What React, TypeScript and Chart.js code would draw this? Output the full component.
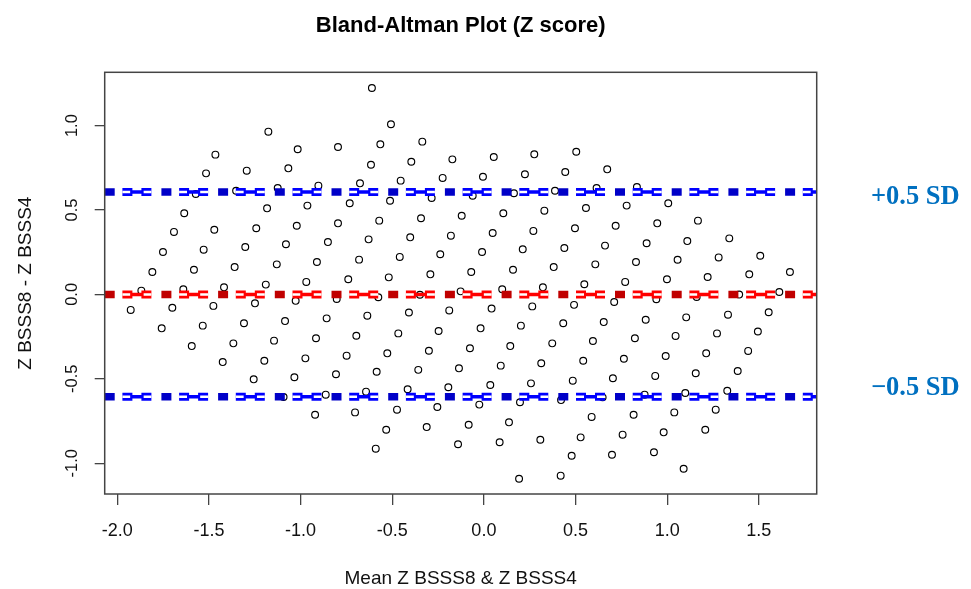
import React, { useEffect, useRef } from "react";
import { Chart, registerables } from "chart.js";

Chart.register(...registerables);

// Mean of the two z scores (x) and their difference (y)
const meanValues = [
  -1.176, -1.016, -0.796, -1.465, -1.516, -1.294, -1.067, -1.352, -1.125, -0.903,
  -1.572, -0.963, -1.183, -1.635, -0.796, -1.021, -1.242, -1.471, -1.691, -0.851,
  -1.080, -1.302, -1.529, -1.751, -0.911, -1.130, -1.360, -1.582, -1.809, -0.969,
  -1.190, -1.418, -1.640, -1.869, -1.927, -1.700, -1.476, -1.249, -1.027, -0.803,
  -0.611, -0.507, -0.565, -0.336, -0.616, -0.396, -0.172, 0.054, 0.275, -0.676,
  -0.454, -0.225, -0.005, 0.224, 0.444, -0.732, -0.512, -0.285, -0.061, 0.388,
  -0.571, -0.343, -0.121, 0.106, 0.330, -0.629, -0.402, -0.180, 0.048, 0.270,
  -0.681, -0.459, -0.238, -0.010, 0.212, 0.439, -0.740, -0.519, -0.292, -0.069,
  0.159, 0.381, -0.576, -0.349, -0.127, 0.100, 0.322, -0.409, -0.189, 0.042,
  0.264, 0.504, 0.673, 0.615, 0.835, 0.557, 0.779, 1.006, 0.497, 0.719,
  0.946, 1.168, 0.661, 0.888, 1.110, 1.339, 0.608, 0.830, 1.057, 1.281,
  1.508, 0.548, 0.771, 0.999, 1.221, 1.448, 1.670, 1.612, 1.393, 1.161,
  0.941, 0.711, 0.492, -1.758, -1.534, -1.309, -1.085, -0.858, -1.594, -1.367,
  -1.145, -0.916, -1.425, -1.198, -0.974, -0.807, -1.256, -1.034, -0.863, -1.093,
  -0.921, -0.636, 0.433, -0.696, -0.467, -0.247, -0.018, 0.202, 0.373, -0.749,
  -0.527, -0.300, -0.076, 0.144, 0.313, -0.585, -0.358, -0.136, 0.092, 0.257,
  -0.643, -0.416, -0.194, 0.035, 0.197, 0.421, -0.703, -0.474, -0.254, -0.025,
  -0.533, -0.312, -0.083, 0.137, -0.590, -0.141, 0.086, 0.308, 0.192, 0.419,
  0.485, 0.479, 0.654, 0.883, 1.104, 1.332, 1.554, 0.595, 0.824, 1.046,
  1.272, 1.495, 0.542, 0.764, 0.992, 1.213, 1.442, 0.704, 0.935, 1.156,
  1.385, 0.648, 0.877, 1.099, 1.328, 0.588, 0.817, 1.039, 1.265, 0.528,
  0.757, 0.981, 1.208, 0.699, 0.928, 1.090, 0.164,
];

const diffValues = [
  0.964, 0.860, 0.873, 0.828, 0.717, 0.733, 0.747, 0.614, 0.630, 0.644,
  0.595, 0.526, 0.510, 0.481, 0.421, 0.407, 0.392, 0.383, 0.370, 0.310,
  0.297, 0.281, 0.265, 0.251, 0.192, 0.178, 0.162, 0.146, 0.133, 0.074,
  0.058, 0.042, 0.030, 0.022, -0.092, -0.079, -0.068, -0.053, -0.038, -0.027,
  1.223, 1.008, 0.889, 0.905, 0.768, 0.786, 0.800, 0.814, 0.830, 0.658,
  0.674, 0.690, 0.697, 0.712, 0.725, 0.540, 0.555, 0.571, 0.585, 0.614,
  0.437, 0.451, 0.466, 0.481, 0.496, 0.326, 0.338, 0.348, 0.364, 0.376,
  0.206, 0.222, 0.238, 0.251, 0.267, 0.275, 0.090, 0.101, 0.119, 0.133,
  0.146, 0.162, -0.017, -0.002, 0.018, 0.030, 0.042, -0.107, -0.095, -0.084,
  -0.071, 0.845, 0.741, 0.630, 0.636, 0.512, 0.526, 0.540, 0.392, 0.407,
  0.421, 0.437, 0.289, 0.303, 0.316, 0.332, 0.178, 0.192, 0.205, 0.219,
  0.229, 0.060, 0.074, 0.090, 0.103, 0.119, 0.133, 0.014, -0.001, -0.015,
  -0.029, -0.045, -0.062, -0.201, -0.185, -0.171, -0.158, -0.142, -0.306, -0.290,
  -0.274, -0.260, -0.401, -0.393, -0.379, -0.473, -0.503, -0.491, -0.594, -0.608,
  -0.713, -0.126, -0.171, -0.245, -0.231, -0.217, -0.201, -0.185, -0.290, -0.363,
  -0.349, -0.334, -0.319, -0.306, -0.408, -0.458, -0.447, -0.438, -0.422, -0.527,
  -0.576, -0.562, -0.550, -0.537, -0.639, -0.626, -0.699, -0.683, -0.667, -0.653,
  -0.802, -0.786, -0.772, -0.758, -0.914, -0.888, -0.876, -0.861, -1.092, -1.074,
  -0.511, -0.956, -0.164, -0.150, -0.136, -0.120, -0.106, -0.276, -0.260, -0.246,
  -0.231, -0.220, -0.393, -0.381, -0.365, -0.349, -0.335, -0.497, -0.483, -0.467,
  -0.454, -0.610, -0.594, -0.584, -0.571, -0.726, -0.713, -0.699, -0.683, -0.847,
  -0.831, -0.817, -0.802, -0.950, -0.935, -1.033, 0.599,
];

const meanDifference = [0];
const limitsOfAgreement = [0.607, -0.607];

const xTickValues = [-2.0, -1.5, -1.0, -0.5, 0.0, 0.5, 1.0, 1.5];
const yTickValues = [-1.0, -0.5, 0.0, 0.5, 1.0];

const X_MIN = -2.069;
const X_MAX = 1.816;
const Y_MIN = -1.1825;
const Y_MAX = 1.3158;

const SANS = "'Liberation Sans', Arial, Helvetica, sans-serif";
const SERIF = "'Liberation Serif', 'DejaVu Serif', 'Times New Roman', serif";

function dashedLevel(y: number, dark: string, light: string) {
  const pts = [
    { x: X_MIN, y },
    { x: X_MAX, y },
  ];
  const base = {
    type: "line" as const,
    data: pts,
    showLine: true,
    pointRadius: 0,
    pointHoverRadius: 0,
    fill: false,
    borderCapStyle: "butt" as const,
  };
  return [
    { ...base, borderColor: dark, borderWidth: 7.5, borderDash: [10, 46.7], order: 4 },
    { ...base, borderColor: light, borderWidth: 8, borderDash: [0, 17.7, 10, 9, 10, 10], order: 3 },
    { ...base, borderColor: "#ffffff", borderWidth: 2.5, borderDash: [0, 17.7, 8, 13, 8, 10], order: 2 },
    { ...base, borderColor: light, borderWidth: 3.5, borderDash: [0, 25.7, 13, 18], order: 1 },
  ];
}

const framePlugin = {
  id: "frame",
  afterDatasetsDraw(chart: any) {
    const { ctx, chartArea } = chart;
    const { left, top, right, bottom } = chartArea;
    ctx.save();
    ctx.strokeStyle = "#444";
    ctx.lineWidth = 1.5;
    ctx.strokeRect(left, top, right - left, bottom - top);
    ctx.restore();
  },
};

export default function App() {
  const canvasRef = useRef<HTMLCanvasElement | null>(null);

  useEffect(() => {
    const canvas = canvasRef.current;
    if (!canvas) return;

    const points = meanValues.map((x, i) => ({ x, y: diffValues[i] }));

    const lineSets: any[] = [];
    limitsOfAgreement.forEach((v) => lineSets.push(...dashedLevel(v, "#0000c8", "#0000ff")));
    meanDifference.forEach((v) => lineSets.push(...dashedLevel(v, "#c00000", "#ff0000")));

    const chart = new Chart(canvas, {
      type: "scatter",
      data: {
        datasets: [
          ...lineSets,
          {
            type: "scatter",
            data: points,
            pointStyle: "circle",
            pointRadius: 3.4,
            pointHoverRadius: 3.4,
            pointBorderWidth: 1.15,
            pointBorderColor: "#000",
            pointBackgroundColor: "rgba(0,0,0,0)",
            borderColor: "#000",
            backgroundColor: "rgba(0,0,0,0)",
            order: 10,
          },
        ],
      },
      options: {
        responsive: false,
        devicePixelRatio: 1,
        animation: false,
        events: [],
        layout: { padding: { top: 0, left: 0, right: 154.3, bottom: 0 } },
        plugins: {
          legend: { display: false },
          tooltip: { enabled: false },
          title: {
            display: true,
            text: "Bland-Altman Plot (Z score)",
            fullSize: false,
            color: "#000",
            font: { family: SANS, size: 22, weight: "bold", lineHeight: 1.2 },
            padding: { top: 12.4, bottom: 33.5 },
          },
        },
        scales: {
          x: {
            type: "linear",
            min: X_MIN,
            max: X_MAX,
            afterBuildTicks: (s: any) => {
              s.ticks = xTickValues.map((v) => ({ value: v }));
            },
            afterFit: (s: any) => {
              s.height = 95;
            },
            ticks: {
              autoSkip: false,
              maxRotation: 0,
              minRotation: 0,
              padding: 15,
              color: "#111",
              font: { family: SANS, size: 18 },
              callback: (v: any) => Number(v).toFixed(1),
            },
            grid: {
              drawOnChartArea: false,
              drawTicks: true,
              tickLength: 11,
              color: "#444",
              lineWidth: 1.3,
            },
            border: { display: false },
            title: {
              display: true,
              text: "Mean Z BSSS8 & Z BSSS4",
              color: "#111",
              font: { family: SANS, size: 19, lineHeight: 1 },
              padding: { top: 0, bottom: 0.3 },
            },
          },
          y: {
            type: "linear",
            min: Y_MIN,
            max: Y_MAX,
            afterBuildTicks: (s: any) => {
              s.ticks = yTickValues.map((v) => ({ value: v }));
            },
            afterFit: (s: any) => {
              s.width = 104.7;
            },
            ticks: {
              autoSkip: false,
              minRotation: 90,
              maxRotation: 90,
              crossAlign: "center",
              padding: 8,
              color: "#111",
              font: { family: SANS, size: 16.5 },
              callback: (v: any) => Number(v).toFixed(1),
            },
            grid: {
              drawOnChartArea: false,
              drawTicks: true,
              tickLength: 10,
              color: "#444",
              lineWidth: 1.3,
            },
            border: { display: false },
            title: {
              display: true,
              text: "Z BSSS8 - Z BSSS4",
              color: "#111",
              font: { family: SANS, size: 19, lineHeight: 1.2 },
              padding: { top: 14.4, bottom: 0 },
            },
          },
        },
      } as any,
      plugins: [framePlugin],
    });

    return () => {
      chart.destroy();
    };
  }, []);

  const labelStyle: React.CSSProperties = {
    position: "absolute",
    left: 871,
    fontFamily: SERIF,
    fontWeight: "bold",
    fontSize: 26.5,
    lineHeight: 1,
    color: "#0070c0",
    whiteSpace: "nowrap",
  };

  return (
    <div
      style={{
        position: "fixed",
        left: 0,
        top: 0,
        width: 971,
        height: 589,
        background: "#fff",
        overflow: "hidden",
      }}
    >
      <canvas
        ref={canvasRef}
        width={971}
        height={589}
        style={{ display: "block", width: 971, height: 589 }}
      />
      <div style={{ ...labelStyle, top: 182 }}>+0.5 SD</div>
      <div style={{ ...labelStyle, top: 373 }}>−0.5 SD</div>
    </div>
  );
}
